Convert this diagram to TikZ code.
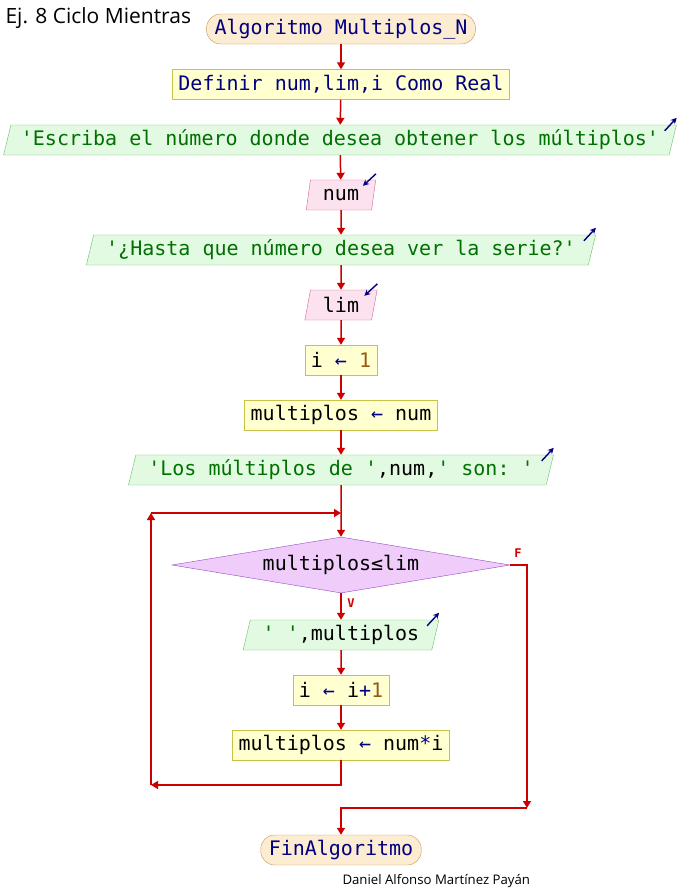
\documentclass[tikz,border=0pt]{standalone}
\usepackage{fontspec}
\setmainfont{Open Sans}
\setmonofont{DejaVu Sans Mono}
\usetikzlibrary{shapes.geometric,arrows.meta,calc}

\definecolor{rojoflujo}{RGB}{204,0,0}
\definecolor{azulclave}{RGB}{0,0,128}
\definecolor{verdecad}{RGB}{0,112,0}
\definecolor{cafenum}{RGB}{150,90,20}
\definecolor{fondoterm}{RGB}{252,236,210}
\definecolor{bordeterm}{RGB}{200,150,80}
\definecolor{fondoasig}{RGB}{255,255,208}
\definecolor{bordeasig}{RGB}{200,195,70}
\definecolor{fondosal}{RGB}{226,250,226}
\definecolor{bordesal}{RGB}{100,190,100}
\definecolor{fondoent}{RGB}{252,226,238}
\definecolor{bordeent}{RGB}{210,100,150}
\definecolor{fondocond}{RGB}{240,204,250}
\definecolor{bordecond}{RGB}{150,70,200}

\newcommand{\cadena}[1]{\textcolor{verdecad}{#1}}
\newcommand{\flecha}{\textcolor{azulclave}{←}}
\newcommand{\numero}[1]{\textcolor{cafenum}{#1}}

\begin{document}
\begin{tikzpicture}[x=1pt,y=-1pt,
    codigo/.style={font=\ttfamily\fontsize{20}{24}\selectfont},
    terminal/.style={codigo,draw=bordeterm,fill=fondoterm,text=azulclave,rounded corners=14pt,
        minimum height=30pt,inner xsep=8pt,inner ysep=0pt},
    asignar/.style={codigo,draw=bordeasig,fill=fondoasig,minimum height=30pt,inner xsep=6pt,inner ysep=0pt},
    paralelo/.style={codigo,trapezium,trapezium left angle=70,trapezium right angle=110,
        trapezium stretches body,minimum height=30pt,inner xsep=12.5pt,inner ysep=0pt},
    salida/.style={paralelo,draw=bordesal,fill=fondosal},
    entrada/.style={paralelo,draw=bordeent,fill=fondoent},
    condicion/.style={codigo,diamond,aspect=6,draw=bordecond,fill=fondocond,
        minimum width=338pt,minimum height=56pt,inner sep=0pt},
    flujo/.style={draw=rojoflujo,line width=1.5pt,-{Triangle[length=7pt,width=8pt]}},
    icono/.style={draw=azulclave,line width=1.4pt,-{Stealth[length=6pt,width=6pt]}},
    etiq/.style={font=\ttfamily\bfseries\fontsize{12}{14}\selectfont,text=rojoflujo,inner sep=0pt}]

\useasboundingbox (0,0) rectangle (680,895);

\node[anchor=west,font=\fontsize{21}{25}\selectfont] (titulo) at (2,18) {Ej. 8 Ciclo Mientras};

\node[terminal] (inicio) at (341,29) {Algoritmo Multiplos\_N};
\node[asignar,text=azulclave] (definir) at (341,84.5) {Definir num,lim,i Como Real};
\node[salida,inner xsep=10pt] (salida1) at (340,140) {\cadena{'Escriba el número donde desea obtener los múltiplos'}};
\node[entrada] (leer1) at (341,195) {num};
\node[salida] (salida2) at (341,250) {\cadena{'¿Hasta que número desea ver la serie?'}};
\node[entrada] (leer2) at (341,305) {lim};
\node[asignar] (asig1) at (341,360) {i \flecha{} \numero{1}};
\node[asignar] (asig2) at (341,415) {multiplos \flecha{} num};
\node[salida] (salida3) at (341,470) {\cadena{'Los múltiplos de '},num,\cadena{' son: '}};
\node[condicion] (cond) at (341,565) {multiplos≤lim};
\node[salida] (salida4) at (341,635) {\cadena{' '},multiplos};
\node[asignar] (asig3) at (341,690) {i \flecha{} i\textcolor{azulclave}{+}\numero{1}};
\node[asignar] (asig4) at (341,745) {multiplos \flecha{} num\textcolor{azulclave}{*}i};
\node[terminal] (fin) at (341,850) {FinAlgoritmo};

\node[anchor=west,font=\fontsize{13.2}{15}\selectfont] (autor) at (339,881) {Daniel Alfonso Martínez Payán};

\node[etiq] (falso) at (518,553) {F};
\node[etiq] (verdad) at (351,603) {V};

\coordinate (c1) at (151,785);
\coordinate (c2) at (151,513);
\coordinate (c3) at (341,513);
\coordinate (c4) at (527,808);

% flujo principal
\draw[flujo] (inicio) -- (definir);
\draw[flujo] (definir) -- (salida1);
\draw[flujo] (salida1) -- (leer1);
\draw[flujo] (leer1) -- (salida2);
\draw[flujo] (salida2) -- (leer2);
\draw[flujo] (leer2) -- (asig1);
\draw[flujo] (asig1) -- (asig2);
\draw[flujo] (asig2) -- (salida3);
\draw[flujo] (salida3) -- (cond);
\draw[flujo] (cond) -- (salida4);
\draw[flujo] (salida4) -- (asig3);
\draw[flujo] (asig3) -- (asig4);

% regreso del ciclo
\draw[flujo] (asig4) |- (c1);
\draw[flujo] (c1) -- (c2);
\draw[flujo] (c2) -- (c3);

% salida del ciclo
\draw[flujo] (cond.east) -| (c4);
\draw[flujo] (c4) -| (fin);

% iconos de lectura y escritura
\foreach \s in {salida1,salida2,salida3,salida4}
    \draw[icono] ($(\s.top right corner)+(-12,6)$) -- ($(\s.top right corner)+(0,-7)$);
\foreach \e in {leer1,leer2}
    \draw[icono] ($(\e.top right corner)+(0,-6)$) -- ($(\e.top right corner)+(-13,6)$);

\end{tikzpicture}
\end{document}
